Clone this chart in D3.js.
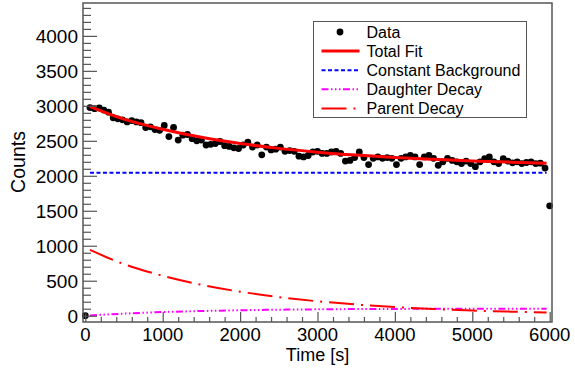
<!DOCTYPE html>
<html>
<head>
<meta charset="utf-8">
<script src="https://cdn.jsdelivr.net/npm/d3@7"></script>
<style>
  body { margin: 0; background: #fff; }
  svg { display: block; font-family: "Liberation Sans", Arial, sans-serif; }
</style>
</head>
<body>
<svg id="chart"></svg>
<script>
// measured counts per 60 s bin, t = 0 ... 6000
const dataTimes = d3.range(0, 6001, 60);
const dataCounts = [
  0,
  2975, 2960, 2970, 2940, 2910, 2830, 2815, 2800, 2770, 2790,
  2770, 2760, 2690, 2700, 2660, 2650, 2720, 2560, 2690, 2510,
  2580, 2590, 2530, 2500, 2510, 2440, 2450, 2460, 2490, 2430,
  2420, 2400, 2390, 2440, 2480, 2410, 2440, 2300, 2410, 2370,
  2380, 2410, 2350, 2360, 2350, 2280, 2270, 2290, 2340, 2350,
  2320, 2320, 2340, 2350, 2320, 2210, 2220, 2260, 2340, 2260,
  2160, 2250, 2270, 2250, 2260, 2250, 2160, 2250, 2270, 2290,
  2270, 2160, 2270, 2290, 2250, 2150, 2200, 2250, 2220, 2200,
  2175, 2210, 2175, 2130, 2200, 2245, 2270, 2200, 2175, 2245,
  2210, 2185, 2200, 2175, 2190, 2200, 2175, 2180, 2110,
  1570
];

// fit components read at these times
const fitTimes = [60, 500, 1000, 1500, 2000, 2500, 3000, 3500, 4000, 4500, 5000, 5500, 5960];
const totalFit = [2990, 2810, 2665, 2550, 2462, 2392, 2338, 2296, 2262, 2235, 2212, 2195, 2178];
const background = [2045, 2045, 2045, 2045, 2045, 2045, 2045, 2045, 2045, 2045, 2045, 2045, 2045];
const daughterDecay = [4, 30, 52, 67, 78, 86, 91, 95, 97, 99, 100, 101, 101];
const parentDecay = [940, 737, 571, 442, 343, 266, 206, 160, 124, 96, 74, 58, 45];

const xTicks = [0, 1000, 2000, 3000, 4000, 5000, 6000];
const yTicks = [0, 500, 1000, 1500, 2000, 2500, 3000, 3500, 4000];

const legendLabels = ['Data', 'Total Fit', 'Constant Background', 'Daughter Decay', 'Parent Decay'];

const width = 575;
const height = 371;
const frame = { left: 83, right: 552, top: 3, bottom: 322 };
const axisColor = '#555';

const x = d3.scaleLinear().domain([-30, 6030]).range([frame.left, frame.right]);
const y = d3.scaleLinear().domain([-90, 4470]).range([frame.bottom, frame.top]);

const svg = d3.select('#chart')
  .attr('width', width)
  .attr('height', height)
  .attr('viewBox', [0, 0, width, height]);

// curve styles
const curves = [
  { values: background, color: '#0000ff', width: 2, dash: '4 2.5' },
  { values: daughterDecay, color: '#ff00ff', width: 2, dash: '7 2.5 1.5 2.5 1.5 2.5 1.5 2.5' },
  { values: parentDecay, color: '#ff0000', width: 2, dash: '25 7 2 7' },
  { values: totalFit, color: '#ff0000', width: 3, dash: null }
];

const line = d3.line()
  .x((d) => x(d[0]))
  .y((d) => y(d[1]))
  .curve(d3.curveMonotoneX);

const gPlot = svg.append('g');

gPlot.selectAll('circle')
  .data(dataTimes.map((t, i) => [t, dataCounts[i]]))
  .join('circle')
  .attr('cx', (d) => x(d[0]))
  .attr('cy', (d) => y(d[1]))
  .attr('r', 3.4)
  .attr('fill', '#000');

gPlot.selectAll('path.curve')
  .data(curves)
  .join('path')
  .attr('class', 'curve')
  .attr('d', (c) => line(fitTimes.map((t, i) => [t, c.values[i]])))
  .attr('fill', 'none')
  .attr('stroke', (c) => c.color)
  .attr('stroke-width', (c) => c.width)
  .attr('stroke-dasharray', (c) => c.dash);

// frame
svg.append('rect')
  .attr('x', frame.left)
  .attr('y', frame.top)
  .attr('width', frame.right - frame.left)
  .attr('height', frame.bottom - frame.top)
  .attr('fill', 'none')
  .attr('stroke', axisColor)
  .attr('stroke-width', 1.5);

// x axis (ticks pointing inward)
const xMinor = d3.range(0, 6001, 200).filter((v) => v % 1000 !== 0);
const gX = svg.append('g').attr('transform', `translate(0,${frame.bottom})`);
gX.call(d3.axisTop(x).tickValues(xMinor).tickSize(5).tickFormat(''));
gX.call((g) => g.select('.domain').remove());
const gX2 = svg.append('g').attr('transform', `translate(0,${frame.bottom})`);
gX2.call(d3.axisTop(x).tickValues(xTicks).tickSize(10).tickFormat(''));
gX2.call((g) => g.select('.domain').remove());
svg.append('g')
  .selectAll('text')
  .data(xTicks)
  .join('text')
  .attr('x', (d) => x(d))
  .attr('y', 340.5)
  .attr('text-anchor', 'middle')
  .attr('font-size', 18.5)
  .attr('fill', '#000')
  .text((d) => d);

// y axis
const yMinor = d3.range(0, 4401, 100).filter((v) => v % 500 !== 0);
const gY = svg.append('g').attr('transform', `translate(${frame.left},0)`);
gY.call(d3.axisRight(y).tickValues(yMinor).tickSize(8).tickFormat(''));
gY.call((g) => g.select('.domain').remove());
const gY2 = svg.append('g').attr('transform', `translate(${frame.left},0)`);
gY2.call(d3.axisRight(y).tickValues(yTicks).tickSize(14).tickFormat(''));
gY2.call((g) => g.select('.domain').remove());
svg.append('g')
  .selectAll('text')
  .data(yTicks)
  .join('text')
  .attr('x', 78)
  .attr('y', (d) => y(d))
  .attr('dy', '0.36em')
  .attr('text-anchor', 'end')
  .attr('font-size', 19)
  .attr('fill', '#000')
  .text((d) => d);

svg.selectAll('.tick line').attr('stroke', axisColor).attr('stroke-width', 1.2);

// axis titles
svg.append('text')
  .attr('x', (frame.left + frame.right) / 2)
  .attr('y', 361)
  .attr('text-anchor', 'middle')
  .attr('font-size', 18)
  .text('Time [s]');

svg.append('text')
  .attr('transform', `translate(25,162) rotate(-90)`)
  .attr('text-anchor', 'middle')
  .attr('font-size', 19.5)
  .text('Counts');

// legend
const legend = svg.append('g');
legend.append('rect')
  .attr('x', 313.5)
  .attr('y', 21.5)
  .attr('width', 213)
  .attr('height', 96)
  .attr('fill', '#fff')
  .attr('stroke', axisColor)
  .attr('stroke-width', 1);

const rowY = (i) => 32 + i * 19.1;
legend.selectAll('text')
  .data(legendLabels)
  .join('text')
  .attr('x', 366.5)
  .attr('y', (d, i) => rowY(i))
  .attr('dy', '0.36em')
  .attr('font-size', 16)
  .text((d) => d);

legend.append('circle')
  .attr('cx', 340)
  .attr('cy', rowY(0))
  .attr('r', 3.4)
  .attr('fill', '#000');

const legendCurves = [curves[3], curves[0], curves[1], curves[2]];
legend.selectAll('line')
  .data(legendCurves)
  .join('line')
  .attr('x1', 321.5)
  .attr('x2', 359.5)
  .attr('y1', (d, i) => rowY(i + 1))
  .attr('y2', (d, i) => rowY(i + 1))
  .attr('stroke', (c) => c.color)
  .attr('stroke-width', (c) => c.width)
  .attr('stroke-dasharray', (c) => c.dash);
</script>
</body>
</html>
